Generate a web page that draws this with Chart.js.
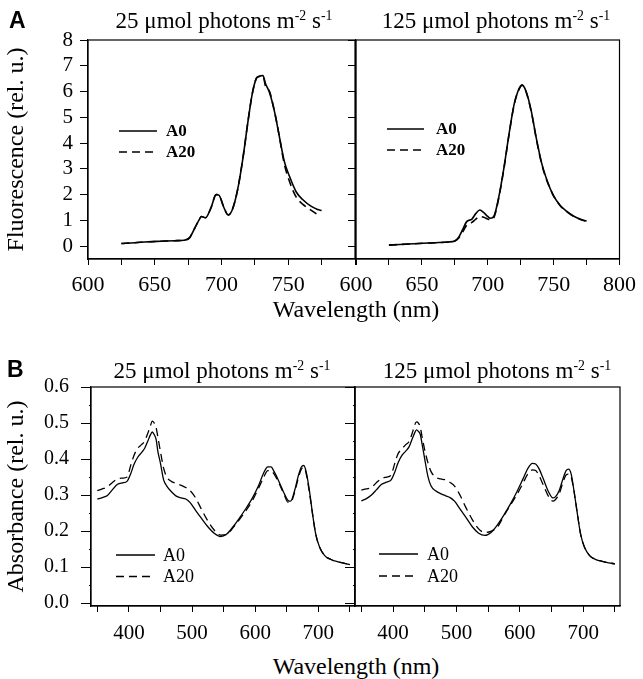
<!DOCTYPE html>
<html lang="en">
<head>
<meta charset="UTF-8">
<title>Fluorescence and absorbance spectra</title>
<script src="https://cdn.jsdelivr.net/npm/chart.js"></script>
<style>
  body { margin: 0; background: #fff; }
  #page { position: relative; width: 643px; height: 679px; font-family: "Liberation Serif", "Times New Roman", serif; color: #000; }
  canvas { position: absolute; }
  .txt { position: absolute; white-space: nowrap; line-height: 1; }
  .panel { font-family: "Liberation Sans", Arial, sans-serif; font-weight: bold; font-size: 23px; }
  .ttl { font-size: 23px; width: 300px; text-align: center; }
  .ttl sup { font-size: 0.6em; vertical-align: 0.55em; line-height: 0; }
  .xt { font-size: 24px; width: 300px; text-align: center; }
</style>
</head>
<body>
<div id="page">
  <canvas id="flLow" width="362" height="300" style="left:0;top:0"></canvas>
  <canvas id="flHigh" width="343" height="300" style="left:300px;top:0"></canvas>
  <canvas id="absLow" width="362" height="300" style="left:0;top:340px"></canvas>
  <canvas id="absHigh" width="343" height="300" style="left:300px;top:340px"></canvas>

  <div class="txt panel" style="left:9px;top:9px">A</div>
  <div class="txt panel" style="left:7px;top:358px">B</div>
  <div class="txt ttl" style="left:74px;top:9px">25 μmol photons m<sup>-2</sup> s<sup>-1</sup></div>
  <div class="txt ttl" style="left:346px;top:9px">125 μmol photons m<sup>-2</sup> s<sup>-1</sup></div>
  <div class="txt ttl" style="left:72px;top:359px">25 μmol photons m<sup>-2</sup> s<sup>-1</sup></div>
  <div class="txt ttl" style="left:347px;top:359px">125 μmol photons m<sup>-2</sup> s<sup>-1</sup></div>
  <div class="txt xt" style="left:206px;top:297px">Wavelength (nm)</div>
  <div class="txt xt" style="left:206px;top:654px">Wavelength (nm)</div>
</div>

<script>
  // values
  const seriesNames = ['A0', 'A20'];

  // A: fluorescence, 25 umol
  const flWl25 = [625, 635, 645, 655, 665, 672, 676, 680, 683, 685, 688, 692, 696, 698, 702, 705, 708, 712, 716, 720,
    723, 726, 728, 731, 733, 736, 740, 743, 747, 751, 756, 761, 767, 772, 775];
  const flA0_25 = [0.10, 0.13, 0.17, 0.19, 0.21, 0.23, 0.32, 0.70, 1.00, 1.15, 1.10, 1.47, 2.00, 1.98, 1.47, 1.21, 1.40, 2.17, 3.40, 4.90,
    5.90, 6.50, 6.58, 6.62, 6.30, 5.95, 5.15, 4.35, 3.30, 2.70, 2.10, 1.80, 1.55, 1.42, 1.38];
  const flA20_25 = [0.10, 0.13, 0.17, 0.19, 0.21, 0.23, 0.32, 0.70, 1.00, 1.15, 1.10, 1.47, 2.00, 1.98, 1.47, 1.21, 1.40, 2.17, 3.40, 4.90,
    5.90, 6.50, 6.58, 6.62, 6.20, 6.00, 5.15, 4.35, 3.20, 2.50, 1.90, 1.62, 1.40, 1.22, null];

  // A: fluorescence, 125 umol
  const flWl125 = [625, 640, 655, 670, 675, 678, 681, 684, 688, 691, 694, 697, 700, 702, 705, 708, 712, 716, 720, 723,
    726, 729, 733, 737, 741, 745, 750, 755, 760, 765, 770, 775];
  const flA0_125 = [0.04, 0.08, 0.12, 0.16, 0.20, 0.35, 0.65, 0.95, 1.05, 1.27, 1.40, 1.30, 1.15, 1.08, 1.20, 1.81, 2.95, 4.30, 5.50, 6.02,
    6.26, 6.02, 5.25, 4.15, 3.20, 2.55, 1.95, 1.58, 1.35, 1.17, 1.05, 0.97];
  const flA20_125 = [0.04, 0.08, 0.12, 0.16, 0.20, 0.32, 0.55, 0.82, 0.92, 1.05, 1.15, 1.12, 1.05, 1.02, 1.15, 1.78, 2.92, 4.28, 5.48, 6.00,
    6.24, 6.00, 5.22, 4.12, 3.18, 2.53, 1.94, 1.57, 1.34, 1.16, 1.04, 0.96];

  // B: absorbance
  const absWl = [350, 358, 366, 374, 382, 390, 397, 403, 408, 414, 420, 425, 430, 434, 437, 440, 443, 446, 450, 455,
    460, 467, 475, 483, 490, 497, 505, 515, 525, 535, 545, 555, 565, 575, 585, 595, 605, 613, 620, 625,
    630, 637, 645, 652, 656, 662, 668, 673, 677, 681, 686, 691, 696, 702, 710, 720, 730, 740, 750];
  const absA0_25 = [0.289, 0.293, 0.299, 0.315, 0.330, 0.334, 0.338, 0.360, 0.385, 0.405, 0.418, 0.430, 0.450, 0.467, 0.475, 0.468, 0.455, 0.420, 0.388, 0.342,
    0.325, 0.310, 0.297, 0.292, 0.289, 0.279, 0.259, 0.235, 0.212, 0.194, 0.185, 0.192, 0.212, 0.236, 0.262, 0.290, 0.325, 0.360, 0.378, 0.378,
    0.365, 0.340, 0.308, 0.285, 0.283, 0.310, 0.352, 0.378, 0.382, 0.362, 0.310, 0.245, 0.190, 0.155, 0.132, 0.121, 0.115, 0.111, 0.107];
  const absA20_25 = [0.312, 0.317, 0.323, 0.335, 0.345, 0.347, 0.350, 0.383, 0.410, 0.430, 0.440, 0.450, 0.472, 0.492, 0.505, 0.500, 0.488, 0.460, 0.420, 0.375,
    0.350, 0.338, 0.332, 0.327, 0.321, 0.312, 0.294, 0.260, 0.228, 0.203, 0.189, 0.190, 0.210, 0.232, 0.256, 0.283, 0.318, 0.348, 0.368, 0.368,
    0.358, 0.335, 0.305, 0.280, 0.280, 0.305, 0.345, 0.372, 0.377, 0.357, 0.305, 0.245, 0.190, 0.155, 0.132, 0.121, 0.115, 0.111, 0.107];
  const absA0_125 = [0.284, 0.290, 0.300, 0.315, 0.330, 0.336, 0.342, 0.365, 0.390, 0.410, 0.422, 0.433, 0.455, 0.472, 0.481, 0.477, 0.468, 0.440, 0.400, 0.352,
    0.325, 0.312, 0.304, 0.298, 0.293, 0.283, 0.263, 0.238, 0.212, 0.194, 0.188, 0.197, 0.218, 0.245, 0.275, 0.308, 0.345, 0.375, 0.388, 0.386,
    0.374, 0.345, 0.310, 0.292, 0.295, 0.312, 0.345, 0.368, 0.372, 0.358, 0.305, 0.245, 0.190, 0.155, 0.132, 0.121, 0.116, 0.112, 0.109];
  const absA20_125 = [0.314, 0.317, 0.321, 0.335, 0.346, 0.350, 0.356, 0.390, 0.415, 0.428, 0.440, 0.448, 0.470, 0.494, 0.503, 0.500, 0.488, 0.460, 0.425, 0.390,
    0.365, 0.350, 0.345, 0.342, 0.335, 0.325, 0.302, 0.265, 0.232, 0.206, 0.196, 0.200, 0.212, 0.243, 0.272, 0.300, 0.333, 0.360, 0.370, 0.368,
    0.355, 0.328, 0.297, 0.283, 0.287, 0.303, 0.335, 0.356, 0.358, 0.350, 0.305, 0.245, 0.190, 0.155, 0.132, 0.121, 0.116, 0.112, 0.109];

  // tick positions
  const flXTicks = [600, 625, 650, 675, 700, 725, 750, 775, 800];
  const flYTicks = [0, 0.5, 1, 1.5, 2, 2.5, 3, 3.5, 4, 4.5, 5, 5.5, 6, 6.5, 7, 7.5, 8];
  const absXTicks = [350, 400, 450, 500, 550, 600, 650, 700, 750];
  const absYTicks = [0, 0.05, 0.1, 0.15, 0.2, 0.25, 0.3, 0.35, 0.4, 0.45, 0.5, 0.55, 0.6];

  const serif = '"Liberation Serif", "Times New Roman", serif';

  function pts(xs, ys) {
    return xs.map((x, i) => ({ x: x, y: ys[i] }));
  }

  // closes the box on top and right
  const framePlugin = {
    id: 'frame',
    afterDatasetsDraw(chart) {
      const a = chart.chartArea, c = chart.ctx;
      c.save();
      c.strokeStyle = '#000';
      c.lineWidth = 1.2;
      c.strokeRect(a.left, a.top, a.right - a.left, a.bottom - a.top);
      c.restore();
    }
  };

  // little line legend inside the plot
  const keyPlugin = {
    id: 'lineKey',
    afterDraw(chart, args, o) {
      if (!o || o.x == null) return;
      const c = chart.ctx;
      c.save();
      chart.data.datasets.forEach((ds, i) => {
        const y = o.y + i * o.gap;
        c.beginPath();
        c.setLineDash(ds.borderDash || []);
        c.lineWidth = 1.5;
        c.strokeStyle = '#000';
        c.moveTo(o.x, y);
        c.lineTo(o.x + o.len, y);
        c.stroke();
        c.setLineDash([]);
        c.font = o.font;
        c.fillStyle = '#000';
        c.textBaseline = 'middle';
        c.fillText(ds.label, o.x + o.len + o.textGap, y + 1);
      });
      c.restore();
    }
  };

  function makeChart(canvasId, p) {
    const line = {
      borderColor: '#000',
      borderWidth: p.lw,
      pointRadius: 0,
      fill: false,
      cubicInterpolationMode: 'monotone'
    };
    // minor y ticks: only the part next to the axis is drawn
    const minorY = ctx => ctx.tick && !p.yMajor(ctx.tick.value);
    return new Chart(document.getElementById(canvasId), {
      type: 'line',
      data: {
        datasets: [
          Object.assign({ label: seriesNames[0], data: pts(p.wl, p.a0) }, line),
          Object.assign({ label: seriesNames[1], data: pts(p.wl, p.a20), borderDash: [8, 5] }, line)
        ]
      },
      options: {
        responsive: false,
        animation: false,
        devicePixelRatio: 1,
        layout: { padding: { top: p.padTop, right: p.padRight, left: 0, bottom: 0 } },
        plugins: {
          legend: { display: false },
          tooltip: { enabled: false },
          lineKey: p.key
        },
        scales: {
          x: {
            type: 'linear',
            min: p.xMin,
            max: p.xMax,
            afterBuildTicks: s => { s.ticks = p.xTicks.map(v => ({ value: v })); },
            afterFit: s => { s.height = p.xH; },
            ticks: {
              autoSkip: false,
              maxRotation: 0,
              color: '#000',
              padding: p.xPad,
              font: { family: serif, size: p.xFont },
              callback: p.xLabel
            },
            grid: { drawOnChartArea: false, tickLength: 6, tickColor: '#000', tickWidth: 1 },
            border: { color: '#000', width: 1.2 }
          },
          y: {
            min: p.yMin,
            max: p.yMax,
            afterBuildTicks: s => { s.ticks = p.yTicks.map(v => ({ value: v })); },
            afterFit: s => { s.width = p.yW; },
            ticks: {
              display: p.yLabel != null,
              autoSkip: false,
              color: '#000',
              padding: p.yPad,
              font: { family: serif, size: p.yFont },
              callback: v => p.yMajor(v) ? p.yText(v) : ''
            },
            title: {
              display: p.yTitle != null,
              text: p.yTitle || '',
              color: '#000',
              font: { family: serif, size: 24 },
              padding: { top: 2, bottom: 0 }
            },
            grid: {
              drawOnChartArea: false,
              tickLength: p.yTickLen,
              tickColor: '#000',
              tickWidth: 1,
              tickBorderDash: ctx => minorY(ctx) ? [p.yMinorLen, p.yTickLen - p.yMinorLen + 4] : [],
              tickBorderDashOffset: ctx => minorY(ctx) ? p.yMinorLen : 0
            },
            border: { color: '#000', width: 1.2 }
          }
        }
      },
      plugins: [framePlugin, keyPlugin]
    });
  }

  const flMajor = v => Number.isInteger(v);
  const absMajor = v => Math.round(v * 100) % 10 === 0;

  makeChart('flLow', {
    wl: flWl25, a0: flA0_25, a20: flA20_25, lw: 1.6,
    padTop: 40, padRight: 6, xH: 41, yW: 88,
    xMin: 600, xMax: 800, xTicks: flXTicks, xPad: 7, xFont: 22,
    xLabel: v => (v % 50 === 0 && v < 800) ? v : '',
    yMin: -0.5, yMax: 8, yTicks: flYTicks, yPad: 7, yFont: 21, yTickLen: 8, yMinorLen: 5,
    yMajor: flMajor, yText: v => v, yLabel: true, yTitle: 'Fluorescence (rel. u.)',
    key: { x: 119, y: 131, gap: 21, len: 38, textGap: 9, font: 'bold 17px ' + serif }
  });

  makeChart('flHigh', {
    wl: flWl125, a0: flA0_125, a20: flA20_125, lw: 1.6,
    padTop: 40, padRight: 20, xH: 41, yW: 56,
    xMin: 600, xMax: 800, xTicks: flXTicks, xPad: 7, xFont: 22,
    xLabel: v => v % 50 === 0 ? v : '',
    yMin: -0.5, yMax: 8, yTicks: flYTicks, yPad: 7, yFont: 21, yTickLen: 8, yMinorLen: 5,
    yMajor: flMajor, yText: v => '', yLabel: null, yTitle: null,
    key: { x: 87, y: 129, gap: 21, len: 37, textGap: 12, font: 'bold 17px ' + serif }
  });

  makeChart('absLow', {
    wl: absWl, a0: absA0_25, a20: absA20_25, lw: 1.3,
    padTop: 47, padRight: 7, xH: 34, yW: 91,
    xMin: 340, xMax: 758, xTicks: absXTicks, xPad: 9, xFont: 21,
    xLabel: v => v % 100 === 0 ? v : '',
    yMin: -0.008, yMax: 0.6, yTicks: absYTicks, yPad: 12, yFont: 20, yTickLen: 10, yMinorLen: 6,
    yMajor: absMajor, yText: v => v.toFixed(1), yLabel: true, yTitle: 'Absorbance (rel. u.)',
    key: { x: 116, y: 215, gap: 21.5, len: 39, textGap: 8, font: '18px ' + serif }
  });

  makeChart('absHigh', {
    wl: absWl, a0: absA0_125, a20: absA20_125, lw: 1.3,
    padTop: 47, padRight: 23, xH: 34, yW: 55,
    xMin: 340, xMax: 758, xTicks: absXTicks, xPad: 9, xFont: 21,
    xLabel: v => v % 100 === 0 ? v : '',
    yMin: -0.008, yMax: 0.6, yTicks: absYTicks, yPad: 12, yFont: 20, yTickLen: 10, yMinorLen: 6,
    yMajor: absMajor, yText: v => '', yLabel: null, yTitle: null,
    key: { x: 79, y: 214, gap: 22, len: 39, textGap: 9, font: '18px ' + serif }
  });
</script>
</body>
</html>
